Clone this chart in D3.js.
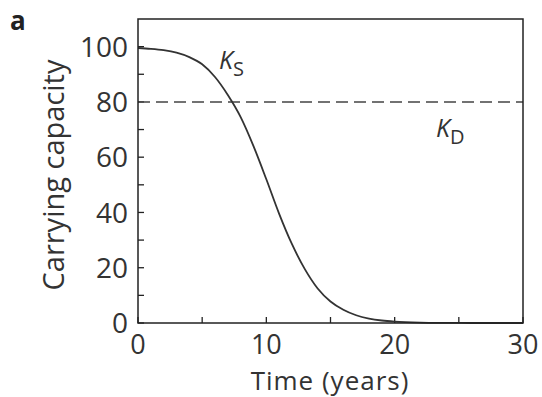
<!DOCTYPE html>
<html>
<head>
<meta charset="utf-8">
<script src="https://cdn.jsdelivr.net/npm/d3@7/dist/d3.min.js"></script>
<style>
  html, body { margin: 0; padding: 0; background: #fff; }
  svg { display: block; font-family: "Open Sans", "Noto Sans", sans-serif; }
</style>
</head>
<body>
<div id="chart"></div>
<script>
// carrying capacity K_S over time
const years = [0, 1, 2, 3, 4, 5, 6, 7, 8, 9, 10, 11, 12, 13, 14, 15, 16, 17, 18, 19, 20, 22, 24, 26, 28, 30];
const capacityS = [99.5, 99.2, 98.7, 97.8, 96.2, 93.6, 89, 82.5, 74.5, 64, 52, 39.5, 28.5, 19.5, 12.5, 7.8, 4.8, 2.8, 1.6, 0.9, 0.5, 0.15, 0.05, 0, 0, 0];
const capacityD = 80;
const xTicks = [0, 10, 20, 30];
const yTicks = [0, 20, 40, 60, 80, 100];

const W = 542, H = 397;
const plot = { left: 138, right: 523, top: 19, bottom: 323 };
const ink = '#333';

const svg = d3.select('#chart').append('svg')
  .attr('width', W)
  .attr('height', H);

const x = d3.scaleLinear().domain([0, 30]).range([plot.left, plot.right]);
const y = d3.scaleLinear().domain([0, 110]).range([plot.bottom, plot.top]);

// inward ticks, labels only on the majors
const tickLen = 6;
const xMinor = d3.range(0, 31, 5);
const yMinor = d3.range(0, 110, 10);

svg.append('g')
  .selectAll('line')
  .data(xMinor)
  .join('line')
  .attr('x1', d => x(d)).attr('x2', d => x(d))
  .attr('y1', plot.bottom).attr('y2', plot.bottom - tickLen)
  .attr('stroke', '#222').attr('stroke-width', 1.3);

svg.append('g')
  .selectAll('line')
  .data(yMinor)
  .join('line')
  .attr('x1', plot.left).attr('x2', plot.left + tickLen)
  .attr('y1', d => y(d)).attr('y2', d => y(d))
  .attr('stroke', '#222').attr('stroke-width', 1.3);

svg.append('g')
  .selectAll('text')
  .data(xTicks)
  .join('text')
  .attr('x', d => x(d))
  .attr('y', plot.bottom + 31)
  .attr('text-anchor', 'middle')
  .attr('font-size', 27)
  .attr('fill', ink)
  .text(d => d);

svg.append('g')
  .selectAll('text')
  .data(yTicks)
  .join('text')
  .attr('x', plot.left - 10)
  .attr('y', d => y(d))
  .attr('dy', '0.36em')
  .attr('text-anchor', 'end')
  .attr('font-size', 28)
  .attr('fill', ink)
  .text(d => d);

// dashed K_D
svg.append('line')
  .attr('x1', x(0)).attr('x2', x(30))
  .attr('y1', y(capacityD)).attr('y2', y(capacityD))
  .attr('stroke', '#444')
  .attr('stroke-width', 1.5)
  .attr('stroke-dasharray', '12 6');

// K_S curve
const line = d3.line()
  .x((d, i) => x(years[i]))
  .y(d => y(d))
  .curve(d3.curveMonotoneX);

svg.append('path')
  .datum(capacityS)
  .attr('d', line)
  .attr('fill', 'none')
  .attr('stroke', '#333')
  .attr('stroke-width', 1.8);

// frame
svg.append('rect')
  .attr('x', plot.left).attr('y', plot.top)
  .attr('width', plot.right - plot.left)
  .attr('height', plot.bottom - plot.top)
  .attr('fill', 'none')
  .attr('stroke', '#222')
  .attr('stroke-width', 1.5);

// labels
svg.append('text')
  .attr('x', 330)
  .attr('y', 390)
  .attr('text-anchor', 'middle')
  .attr('font-size', 26)
  .attr('letter-spacing', 1)
  .attr('fill', ink)
  .text('Time (years)');

svg.append('text')
  .attr('transform', 'translate(64,175) rotate(-90)')
  .attr('text-anchor', 'middle')
  .attr('font-size', 29)
  .attr('fill', ink)
  .text('Carrying capacity');

svg.append('text')
  .attr('x', 10).attr('y', 30)
  .attr('font-size', 26)
  .attr('font-weight', 'bold')
  .attr('fill', '#222')
  .text('a');

function kLabel(px, py, sub) {
  const t = svg.append('text')
    .attr('x', px).attr('y', py)
    .attr('font-size', 25)
    .attr('fill', ink);
  t.append('tspan').attr('font-style', 'italic').text('K');
  t.append('tspan').attr('font-size', 20).attr('dy', 7).text(sub);
}
kLabel(219, 69, 'S');
kLabel(436, 137, 'D');
</script>
</body>
</html>
